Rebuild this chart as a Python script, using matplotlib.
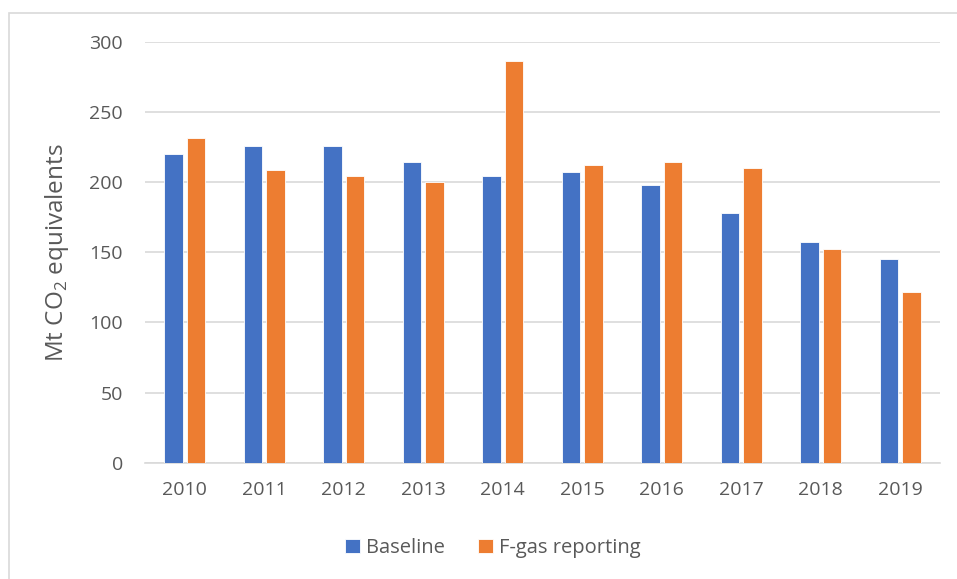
import matplotlib
matplotlib.use('Agg')
import matplotlib.pyplot as plt
import numpy as np
from matplotlib.patches import Rectangle

# data
years = ['2010', '2011', '2012', '2013', '2014', '2015', '2016', '2017', '2018', '2019']
baseline = [220, 226, 226, 214, 204.5, 207, 198, 178, 157.5, 145.5]
fgas = [231.5, 208.5, 204.5, 200, 286, 212, 214.5, 210, 152.5, 121.5]

plt.rcParams['font.family'] = ['Open Sans', 'DejaVu Sans']
plt.rcParams['mathtext.fontset'] = 'custom'
plt.rcParams['mathtext.rm'] = 'Open Sans'

grey = '#595959'
blue = '#4472c4'
orange = '#ed7d31'

fig = plt.figure(figsize=(9.57, 5.79), dpi=100)
ax = fig.add_axes([145/957, 1-462.7/579, (940-145)/957, (462.7-41.7)/579])

# outer chart frame (runs off right and bottom edge like the reference)
fig.patches.append(Rectangle((8.5/957, -0.05), 1.1, 1-12.5/579+0.05,
                             transform=fig.transFigure, fill=False,
                             edgecolor='#d9d9d9', linewidth=1.2))

x = np.arange(len(years))
w = 0.235
ax.bar(x - 0.142, baseline, w, color=blue, edgecolor='white', linewidth=0.6,
       label='Baseline', zorder=3)
ax.bar(x + 0.142, fgas, w, color=orange, edgecolor='white', linewidth=0.6,
       label='F-gas reporting', zorder=3)

ax.set_xlim(-0.5, len(years) - 0.5)
ax.set_ylim(0, 300)
ax.set_yticks(range(0, 301, 50))
ax.set_xticks(x)
ax.set_xticklabels(years)
ax.grid(axis='y', color='#d9d9d9', linewidth=1.2, zorder=0)
for s in ['top', 'right', 'left']:
    ax.spines[s].set_visible(False)
ax.spines['bottom'].set_color('#d9d9d9')
ax.spines['bottom'].set_linewidth(1.2)
ax.tick_params(axis='both', length=0, labelsize=14, colors=grey)
ax.tick_params(axis='y', pad=16)
ax.tick_params(axis='x', pad=13)

ax.set_ylabel('Mt CO$_2$ equivalents', fontsize=17.5, color=grey, labelpad=13)

fig.legend(loc='center', bbox_to_anchor=(0.515, 1-548/579), ncol=2,
           frameon=False, fontsize=14.5, labelcolor=grey,
           handlelength=0.75, handleheight=0.75, handletextpad=0.3,
           columnspacing=1.6)

fig.savefig('out.png', dpi=100)
